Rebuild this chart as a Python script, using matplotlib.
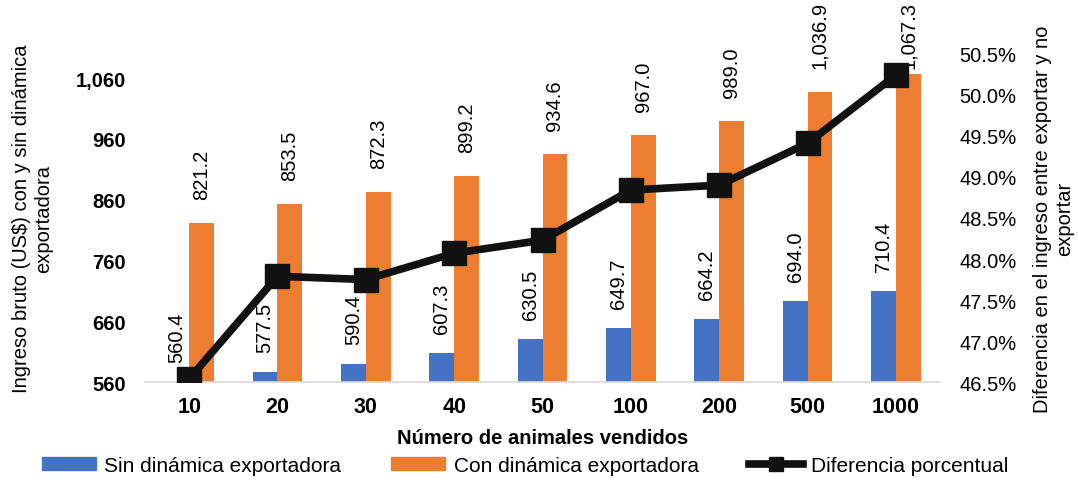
import numpy as np
import matplotlib.pyplot as plt
from matplotlib.patches import Patch
from matplotlib.lines import Line2D
from matplotlib.ticker import FuncFormatter

plt.rcParams['font.family'] = ['Liberation Sans', 'DejaVu Sans']

# data
categorias = ['10', '20', '30', '40', '50', '100', '200', '500', '1000']
sin_dinamica = [560.4, 577.5, 590.4, 607.3, 630.5, 649.7, 664.2, 694.0, 710.4]
con_dinamica = [821.2, 853.5, 872.3, 899.2, 934.6, 967.0, 989.0, 1036.9, 1067.3]
diferencia = [46.54, 47.79, 47.75, 48.07, 48.23, 48.84, 48.90, 49.41, 50.24]

azul = '#4472C4'
naranja = '#ED7D31'
negro = '#111111'

fig = plt.figure(figsize=(10.78, 4.85), dpi=100)
ax = fig.add_axes([0.1345, 0.21, 0.7375, 0.677])
ax2 = ax.twinx()

x = np.arange(len(categorias))
w = 0.28
ax.bar(x - w / 2, np.array(sin_dinamica) - 560, w, bottom=560, color=azul, zorder=2)
ax.bar(x + w / 2, np.array(con_dinamica) - 560, w, bottom=560, color=naranja, zorder=2)

# data labels, rotated, above each bar
for xi, v in zip(x - w / 2, sin_dinamica):
    ax.annotate(f'{v:,.1f}', (xi, v), xytext=(0, 20), textcoords='offset pixels',
                rotation=90, ha='center', va='bottom', fontsize=14.5, zorder=1)
for i, (xi, v) in enumerate(zip(x + w / 2, con_dinamica)):
    # last label gets pushed down so it stays inside the figure (as in excel)
    off = 24 if i < len(con_dinamica) - 1 else 6
    ax.annotate(f'{v:,.1f}', (xi, v), xytext=(0, off), textcoords='offset pixels',
                rotation=90, ha='center', va='bottom', fontsize=14.5, zorder=1)

ax.set_ylim(560, 1100)
ax.set_yticks([560, 660, 760, 860, 960, 1060])
ax.yaxis.set_major_formatter(FuncFormatter(lambda v, p: f'{v:,.0f}'))
ax.set_xlim(-0.5, len(categorias) - 0.5)
ax.set_xticks(x)
ax.set_xticklabels(categorias)

ax2.plot(x, diferencia, color=negro, lw=5.5, marker='s', markersize=17,
         markeredgecolor=negro, zorder=5)
ax2.set_ylim(46.5, 50.5)
ax2.set_yticks(np.arange(46.5, 50.51, 0.5))
ax2.yaxis.set_major_formatter(FuncFormatter(lambda v, p: f'{v:.1f}%'))

# put line above bars
ax.set_zorder(1)
ax2.set_zorder(2)
ax2.patch.set_visible(False)

for a in (ax, ax2):
    for s in ['top', 'left', 'right', 'bottom']:
        a.spines[s].set_visible(False)
ax.spines['bottom'].set_visible(True)
ax.spines['bottom'].set_color('#d9d9d9')
ax.spines['bottom'].set_linewidth(1.2)

ax.tick_params(axis='y', length=0, pad=14, labelsize=14.5)
ax.tick_params(axis='x', length=0, pad=10, labelsize=15.5)
for t in ax.get_yticklabels() + ax.get_xticklabels():
    t.set_fontweight('bold')
ax2.tick_params(axis='y', length=0, pad=14, labelsize=14.5)

ax.set_xlabel('Número de animales vendidos', fontsize=14.5, fontweight='bold', labelpad=8)
ax.set_ylabel('Ingreso bruto (US$) con y sin dinámica\nexportadora', fontsize=14.5, labelpad=16)
ax2.set_ylabel('Diferencia en el ingreso entre exportar y no\nexportar', fontsize=14.5,
               rotation=90, labelpad=12)

handles = [Patch(color=azul), Patch(color=naranja),
           Line2D([0], [0], color=negro, lw=5.5, marker='s', markersize=10)]
labels = ['Sin dinámica exportadora', 'Con dinámica exportadora', 'Diferencia porcentual']
fig.legend(handles, labels, loc='lower center', bbox_to_anchor=(0.487, -0.02), ncol=3,
           frameon=False, fontsize=15, handlelength=2.6, handleheight=0.6,
           columnspacing=2.4, handletextpad=0.4)

fig.savefig('out.png', dpi=100)
